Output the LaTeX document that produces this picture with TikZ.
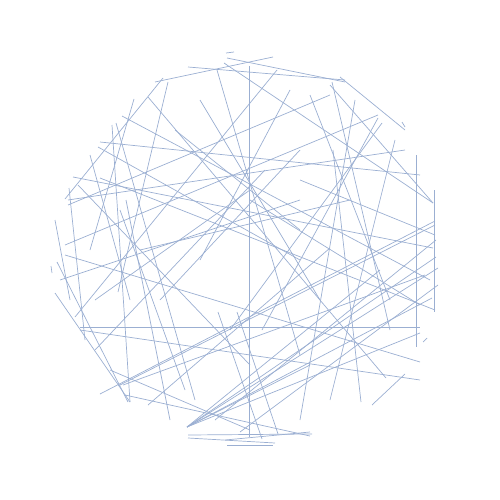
\documentclass[tikz,border=0pt]{standalone}
\usepackage[dvipsnames]{xcolor}
\definecolor{chordblue}{RGB}{155,175,210}
\begin{document}
\begin{tikzpicture}[x=1pt, y=-1pt]
                        \useasboundingbox (0,0) rectangle (500,500);
                        % chords, pixel coordinates of the sheet
                        \foreach \xa/\ya/\xb/\yb in {
                            249/66/249/437, 80/327/420/327, 434/190/434/312, 416/155/416/347,
                            188/67/345/80, 155/82/273/57, 226/53/234/52, 227/58/345/82,
                            224/63/433/203, 330/85/433/203, 340/77/405/130, 402/122/405/127,
                            163/78/65/199, 168/82/118/292, 148/97/386/378, 134/99/90/250,
                            122/116/430/280, 112/125/130/402, 116/123/195/400, 100/142/420/175,
                            98/147/300/260, 90/155/130/300, 68/205/330/95, 65/245/378/115,
                            73/177/433/248, 277/70/75/317, 382/123/230/330, 55/220/70/300,
                            69/188/85/340, 51/266/52/273, 372/405/405/374, 188/435/312/434,
                            188/438/275/443, 225/440/310/432, 227/445/273/445,
                            187/427/436/257, 187/427/438/268, 187/427/432/298, 187/427/420/333,
                            187/427/310/365, 55/293/130/402, 57/262/128/402, 123/385/425/275,
                            125/395/310/436, 148/405/330/248, 126/200/170/420, 120/210/185/390,
                            265/170/95/350, 80/330/420/380, 378/118/262/330, 100/394/435/221,
                            333/150/361/402, 332/82/390/330, 68/200/405/150, 65/255/420/362,
                            78/185/250/365, 100/178/435/310, 217/70/300/355, 423/342/427/338,
                            120/385/435/225, 215/420/436/240, 240/432/438/285, 187/427/380/270,
                            262/439/218/312, 278/434/237/312, 175/130/300/230, 300/180/435/235,
                            250/200/420/305, 160/300/300/150, 140/250/350/200, 95/300/250/190,
                            200/100/320/300, 290/90/200/260, 310/95/390/300, 355/100/300/420,
                            395/140/330/400, 60/280/300/200, 110/370/250/430}
                            \draw[chordblue, line width=0.7pt] (\xa,\ya) -- (\xb,\yb);
                    \end{tikzpicture}
\end{document}
